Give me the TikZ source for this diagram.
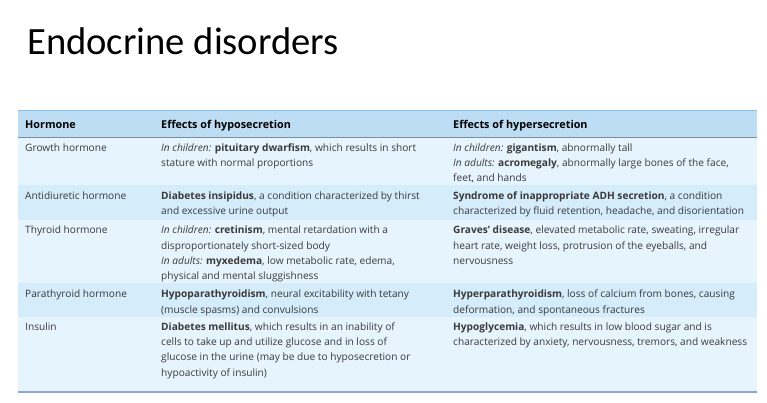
\documentclass[tikz,border=0pt]{standalone}
\usepackage{fontspec}
\setmainfont{Open Sans}
\newfontfamily\titlefont{Carlito}
\definecolor{hdrfill}{HTML}{BCDDF4}
\definecolor{hdrtop}{HTML}{8DC1EA}
\definecolor{hdrrule}{HTML}{7F8C99}
\definecolor{rowodd}{HTML}{E6F4FD}
\definecolor{roweven}{HTML}{D5ECFA}
\definecolor{botrule}{HTML}{8DA6D6}
\definecolor{bodytext}{HTML}{3A3A3A}
\newcommand\cellfont{\fontsize{10.15}{15.3}\selectfont}
\newcommand\headfont{\fontsize{10.8}{15.3}\selectfont\bfseries}
\tikzset{
  cell/.style={anchor=north west, inner sep=0pt, align=left, font=\cellfont, text=bodytext, yshift=10.71pt},
  hcell/.style={cell, text=black, font=\headfont},
}
\begin{document}
\begin{tikzpicture}[x=1pt,y=-1pt]
\useasboundingbox (0,0) rectangle (767,403);
% title
\node[anchor=base west, inner sep=0pt, font=\titlefont\fontsize{38.6}{44}\selectfont] (title) at (27,55) {Endocrine disorders};
% row fills
\fill[hdrfill] (18,110) rectangle (757,137);
\fill[rowodd] (18,137) rectangle (757,185);
\fill[roweven] (18,185) rectangle (757,219.5);
\fill[rowodd] (18,219.5) rectangle (757,283);
\fill[roweven] (18,283) rectangle (757,317);
\fill[rowodd] (18,317) rectangle (757,391);
\draw[hdrtop, line width=0.6pt] (18,110) -- (757,110);
\draw[hdrrule, line width=0.9pt] (18,137) -- (757,137);
\draw[botrule, line width=2pt] (18,392) -- (757,392);
% header
\node[hcell] (h1) at (25,128) {\strut Hormone};
\node[hcell] (h2) at (161,128) {\strut Effects of hyposecretion};
\node[hcell] (h3) at (453,128) {\strut Effects of hypersecretion};
% row 1
\node[cell] (a1) at (25,151) {\strut Growth hormone};
\node[cell] (b1) at (161,151) {\strut\textit{In children:} \textbf{pituitary dwarfism}, which results in short\\stature with normal proportions};
\node[cell] (c1) at (453,151) {\strut\textit{In children:} \textbf{gigantism}, abnormally tall\\\textit{In adults:} \textbf{acromegaly}, abnormally large bones of the face,\\feet, and hands};
% row 2
\node[cell] (a2) at (25,199.5) {\strut Antidiuretic hormone};
\node[cell] (b2) at (161,199.5) {\strut\textbf{Diabetes insipidus}, a condition characterized by thirst\\and excessive urine output};
\node[cell] (c2) at (453,199.5) {\strut\textbf{Syndrome of inappropriate ADH secretion}, a condition\\characterized by fluid retention, headache, and disorientation};
% row 3
\node[cell] (a3) at (25,233.5) {\strut Thyroid hormone};
\node[cell] (b3) at (161,233.5) {\strut\textit{In children:} \textbf{cretinism}, mental retardation with a\\disproportionately short-sized body\\\textit{In adults:} \textbf{myxedema}, low metabolic rate, edema,\\physical and mental sluggishness};
\node[cell] (c3) at (453,233.5) {\strut\textbf{Graves’ disease}, elevated metabolic rate, sweating, irregular\\heart rate, weight loss, protrusion of the eyeballs, and\\nervousness};
% row 4
\node[cell] (a4) at (25,297.5) {\strut Parathyroid hormone};
\node[cell] (b4) at (161,297.5) {\strut\textbf{Hypoparathyroidism}, neural excitability with tetany\\(muscle spasms) and convulsions};
\node[cell] (c4) at (453,297.5) {\strut\textbf{Hyperparathyroidism}, loss of calcium from bones, causing\\deformation, and spontaneous fractures};
% row 5
\node[cell] (a5) at (25,330) {\strut Insulin};
\node[cell] (b5) at (161,330) {\strut\textbf{Diabetes mellitus}, which results in an inability of\\cells to take up and utilize glucose and in loss of\\glucose in the urine (may be due to hyposecretion or\\hypoactivity of insulin)};
\node[cell] (c5) at (453,330) {\strut\textbf{Hypoglycemia}, which results in low blood sugar and is\\characterized by anxiety, nervousness, tremors, and weakness};
\end{tikzpicture}
\end{document}
